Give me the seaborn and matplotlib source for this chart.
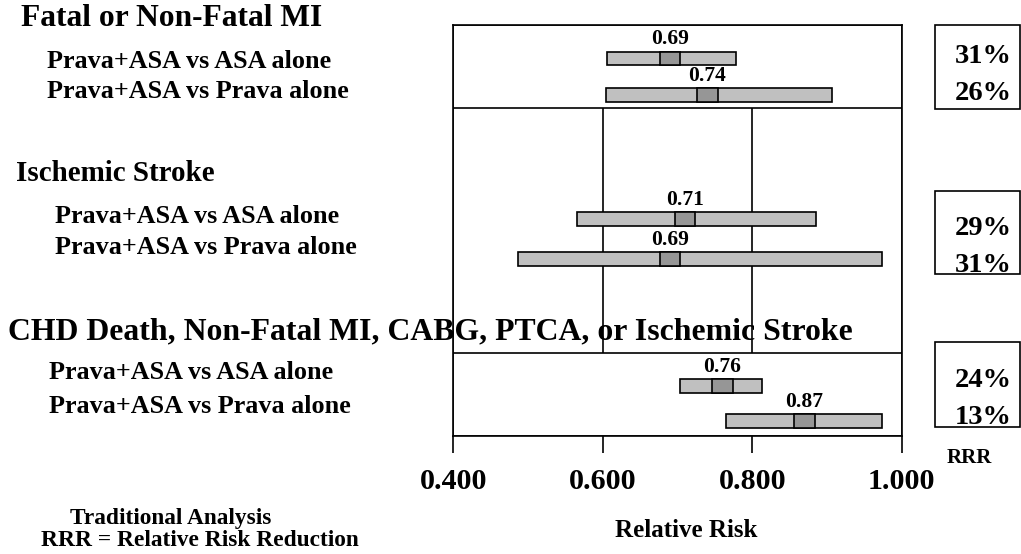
import matplotlib
matplotlib.use("Agg")
import matplotlib.pyplot as plt
from matplotlib.patches import Rectangle
import seaborn as sns

# ---- data -------------------------------------------------------------
groups = ["Fatal or Non-Fatal MI",
          "Ischemic Stroke",
          "CHD Death, Non-Fatal MI, CABG, PTCA, or Ischemic Stroke"]
comparisons = ["Prava+ASA vs ASA alone", "Prava+ASA vs Prava alone"]
rel_risk = [0.69, 0.74, 0.71, 0.69, 0.76, 0.87]
ci_low = [0.606, 0.604, 0.566, 0.486, 0.703, 0.765]
ci_high = [0.778, 0.907, 0.885, 0.973, 0.813, 0.973]
rrr_labels = ["31%", "26%", "29%", "31%", "24%", "13%"]
x_ticks = [0.4, 0.6, 0.8, 1.0]
x_tick_labels = ["0.400", "0.600", "0.800", "1.000"]

# ---- layout (pixels from the top-left corner of the figure) -----------
W, H = 1021, 554
ax_left, ax_right, ax_top, ax_bottom = 453.3, 901.7, 25, 436
row_y = [58.3, 95, 219, 259, 386, 421]          # bar centres
bar_h = 13.3
marker_w = 0.028
group_title_pos = [(21, 26, 22.7), (16, 181, 20.9), (8, 339, 22.9)]
row_label_pos = [(47, 68), (47, 98), (55, 223.3), (55, 254.3), (49, 379.3), (49, 412.7)]
panel_boxes = [(25, 108), None, (353, 436)]
rrr_boxes = [(25, 109), (190.7, 274.3), (342.3, 427.3)]
rrr_baselines = [63.3, 100, 235, 271.7, 387.3, 424]

sns.set_theme(style="ticks")
plt.rcParams["font.family"] = ["Liberation Serif", "DejaVu Serif"]
plt.rcParams["font.weight"] = "bold"
plt.rcParams["text.color"] = "black"
plt.rcParams["xtick.color"] = "black"
plt.rcParams["xtick.labelcolor"] = "black"
plt.rcParams["axes.edgecolor"] = "black"

fig = plt.figure(figsize=(W / 100, H / 100), dpi=100)
fig.patch.set_facecolor("white")


def fx(px):
    return px / W


def fy(py):
    return 1 - py / H


ax = fig.add_axes([fx(ax_left), fy(ax_bottom),
                   (ax_right - ax_left) / W, (ax_bottom - ax_top) / H])
ax.set_xlim(x_ticks[0], x_ticks[-1])
ax.set_ylim(ax_bottom, ax_top)
ax.set_facecolor("white")

# reference grid at every tick, drawn over the text but under the panels
ax.set_xticks(x_ticks)
ax.set_xticklabels(x_tick_labels)
ax.xaxis.grid(True, color="black", linewidth=1.2)
ax.set_axisbelow("line")
ax.tick_params(axis="x", bottom=True, length=12.2, width=1.2, direction="out",
               pad=10.5, labelsize=21.6, colors="black")
ax.tick_params(axis="y", left=False, labelleft=False)
for sp in ax.spines.values():
    sp.set_color("black")
    sp.set_linewidth(1.2)
    sp.set_visible(True)

# white framed panels behind the first and last outcome
for box in panel_boxes:
    if box is None:
        continue
    ax.add_patch(Rectangle((x_ticks[0], box[0]), x_ticks[-1] - x_ticks[0],
                           box[1] - box[0], facecolor="white",
                           edgecolor="black", linewidth=1.2, zorder=1.6))

# confidence-interval bars and point-estimate boxes
widths = [h - l for l, h in zip(ci_low, ci_high)]
ax.barh(row_y, widths, left=ci_low, height=bar_h, color="#C0C0C0",
        edgecolor="black", linewidth=1.2, zorder=3)
ax.barh(row_y, [marker_w] * len(rel_risk),
        left=[v - marker_w / 2 for v in rel_risk], height=bar_h,
        color="#969696", edgecolor="black", linewidth=1.2, zorder=4)
for v, y in zip(rel_risk, row_y):
    ax.text(v, y - 19, f"{v:.2f}", ha="center", va="center", color="black",
            fontsize=15.5, fontweight="bold", zorder=5)

# outcome titles and comparison labels (kept below the grid lines)
for title, (x, y, fs) in zip(groups, group_title_pos):
    ax.text(fx(x), fy(y), title, transform=fig.transFigure, ha="left",
            va="baseline", fontsize=fs, fontweight="bold", color="black",
            zorder=0.5, clip_on=False)
for i, (x, y) in enumerate(row_label_pos):
    ax.text(fx(x), fy(y), comparisons[i % 2], transform=fig.transFigure,
            ha="left", va="baseline", fontsize=18.8, fontweight="bold",
            color="black", zorder=0.5, clip_on=False)

# relative risk reduction column
for top, bottom in rrr_boxes:
    fig.add_artist(Rectangle((fx(935), fy(bottom)), 85 / W, (bottom - top) / H,
                             transform=fig.transFigure, fill=False,
                             edgecolor="black", linewidth=1.2))
for lab, y in zip(rrr_labels, rrr_baselines):
    fig.text(fx(1012), fy(y), lab, ha="right", va="baseline",
             fontsize=20.5, fontweight="bold", color="black")
fig.text(fx(947), fy(463.3), "RRR", ha="left", va="baseline",
         fontsize=15, fontweight="bold", color="black")

# captions
fig.text(fx(686), fy(537.4), "Relative Risk", ha="center", va="baseline",
         fontsize=18, fontweight="bold", color="black")
fig.text(fx(70), fy(524), "Traditional Analysis", ha="left", va="baseline",
         fontsize=16.8, fontweight="bold", color="black")
fig.text(fx(41), fy(545.7), "RRR = Relative Risk Reduction", ha="left",
         va="baseline", fontsize=16.8, fontweight="bold", color="black")

fig.savefig("out.png", dpi=100, facecolor="white")
